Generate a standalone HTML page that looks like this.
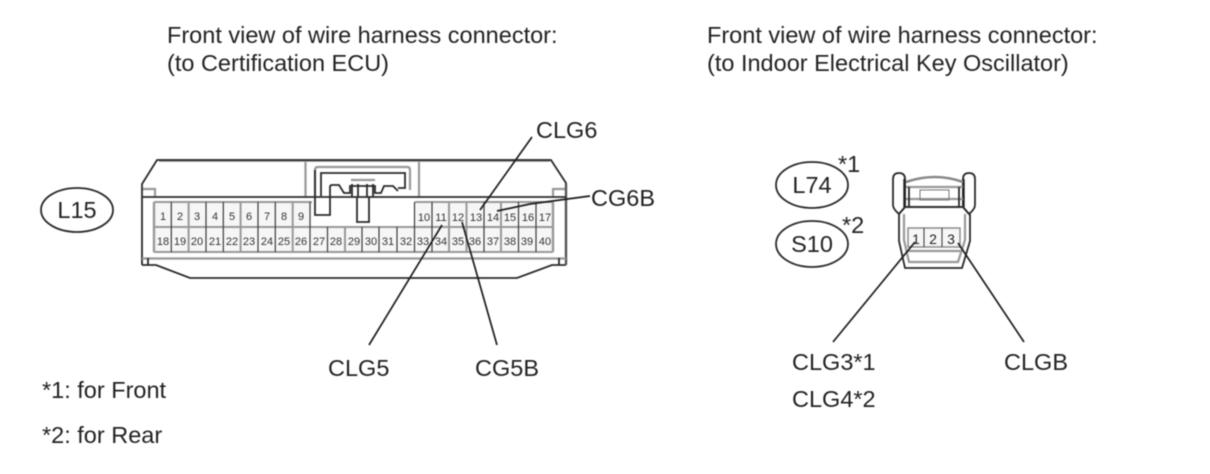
<!DOCTYPE html>
<html>
<head>
<meta charset="utf-8">
<style>
html,body{margin:0;padding:0;background:#fff;}
svg{display:block;filter:blur(0.4px);}
text{font-family:"Liberation Sans",sans-serif;fill:#222;}
.l{font-size:23.5px;}
.n{font-size:11px;text-anchor:middle;fill:#333;}
.k{fill:none;stroke:#2a2a2a;stroke-width:1.8;}
.g{fill:none;stroke:#999;stroke-width:2.2;}
.c{fill:none;stroke:#1d1d1d;stroke-width:1.7;}
</style>
</head>
<body>
<svg width="1210" height="474" viewBox="0 0 1210 474" xmlns="http://www.w3.org/2000/svg">
<rect width="1210" height="474" fill="#fff"/>

<text class="l" x="167" y="43">Front view of wire harness connector:</text>
<text class="l" x="167" y="71">(to Certification ECU)</text>
<text class="l" x="707" y="43">Front view of wire harness connector:</text>
<text class="l" x="707" y="71">(to Indoor Electrical Key Oscillator)</text>

<!-- Main connector -->
<path d="M159,160.5H550" fill="none" stroke="#888" stroke-width="2.6"/>
<path class="k" d="M142,265V184L157,160H551L566,183V265"/>
<path class="k" d="M142,265H156L190,278H517L552,265H566"/>
<path d="M566,184V265" fill="none" stroke="#555" stroke-width="2.4"/>
<path class="k" d="M142,197H566"/>
<path class="g" d="M142,258.5H566" stroke-width="2.6"/>
<path class="g" d="M305.5,162V196M419,162V196"/>
<path class="g" d="M143,189H155V196M553,196V189H565" stroke-width="1.6"/>
<path class="k" d="M148,258V265M559,258V265" stroke-width="1.4"/>

<!-- Centre latch -->
<path class="g" d="M315,196V170Q315,167 318,167H407Q410,167 410,170V190"/>
<path class="k" d="M321,196V173H405V188H398"/>
<path class="k" d="M315,170V215H330V196"/>
<path class="k" d="M330,196V187Q330,185 332,185H339L344,193H350V186H375V193H381L384,186H393L398,191" stroke-width="1.5"/>
<path class="g" d="M351,180H375"/>
<path class="k" d="M352,184V197M358,184V197M367,184V197M373,184V197" stroke-width="1.4"/>
<path class="k" d="M357,197V222H369V197"/>

<!-- Cell grid -->
<g>
<rect x="154" y="202" width="158" height="50" fill="#f6f6f6" stroke="none"/>
<rect x="415" y="202" width="138" height="50" fill="#f6f6f6" stroke="none"/>
<rect x="154" y="227" width="399" height="25" fill="#f6f6f6" stroke="none"/>
<path d="M154,202H312M415,202H553M154,227H553M154,252H553" fill="none" stroke="#999" stroke-width="2"/>
<path d="M154,202V252M553,202V252" fill="none" stroke="#999" stroke-width="2.4"/>
<path d="M171.3,202V252M206,202V252M223.3,202V252M258,202V252M275.3,202V252M310,202V252M327.5,227V252M362,227V252M379,227V252M397,227V252M414.5,202V252M432,202V252M484,202V252M518.5,202V252M536,202V252" stroke="#3a3a3a" stroke-width="1.2" fill="none"/>
<path d="M188.6,202V252M240.6,202V252M292.7,202V252M345,227V252M449,202V252M466.5,202V252M501,202V252" stroke="#999" stroke-width="2" fill="none"/>
</g>
<g>
<text class="n" x="163" y="220">1</text><text class="n" x="180" y="220">2</text><text class="n" x="197" y="220">3</text><text class="n" x="215" y="220">4</text><text class="n" x="232" y="220">5</text><text class="n" x="249" y="220">6</text><text class="n" x="267" y="220">7</text><text class="n" x="284" y="220">8</text><text class="n" x="301" y="220">9</text>
<text class="n" x="424" y="221">10</text><text class="n" x="441" y="221">11</text><text class="n" x="458" y="221">12</text><text class="n" x="476" y="221">13</text><text class="n" x="493" y="221">14</text><text class="n" x="510" y="221">15</text><text class="n" x="528" y="221">16</text><text class="n" x="545" y="221">17</text>
<text class="n" x="163" y="245">18</text><text class="n" x="180" y="245">19</text><text class="n" x="197" y="245">20</text><text class="n" x="215" y="245">21</text><text class="n" x="232" y="245">22</text><text class="n" x="249" y="245">23</text><text class="n" x="267" y="245">24</text><text class="n" x="284" y="245">25</text><text class="n" x="301" y="245">26</text><text class="n" x="319" y="245">27</text><text class="n" x="336" y="245">28</text><text class="n" x="354" y="245">29</text><text class="n" x="371" y="245">30</text><text class="n" x="388" y="245">31</text><text class="n" x="406" y="245">32</text><text class="n" x="423" y="245">33</text><text class="n" x="441" y="245">34</text><text class="n" x="458" y="245">35</text><text class="n" x="475" y="245">36</text><text class="n" x="493" y="245">37</text><text class="n" x="510" y="245">38</text><text class="n" x="527" y="245">39</text><text class="n" x="545" y="245">40</text>
</g>

<!-- Main connector leader lines -->
<path class="c" d="M532,137L480,210"/>
<path class="c" d="M590,196L530,204L497,211"/>
<path class="c" d="M369,345L442,225"/>
<path class="c" d="M497,345L462,222"/>

<text class="l" x="536" y="138">CLG6</text>
<text class="l" x="591" y="206">CG6B</text>
<text class="l" x="328" y="376">CLG5</text>
<text class="l" x="475" y="376">CG5B</text>

<!-- Ovals -->
<ellipse class="k" cx="77" cy="210" rx="36" ry="22"/>
<text class="l" x="77" y="218" text-anchor="middle">L15</text>
<ellipse class="k" cx="812" cy="185" rx="36" ry="23"/>
<text class="l" x="812" y="193" text-anchor="middle">L74</text>
<ellipse class="k" cx="812" cy="244" rx="36" ry="23"/>
<text class="l" x="812" y="252" text-anchor="middle">S10</text>
<text class="l" x="838" y="172">*1</text>
<text class="l" x="842" y="233">*2</text>

<!-- Small connector -->
<path class="k" d="M893,179Q893,173 899,173Q905,173 905,179V207L899,214Q893,209 893,205Z" stroke-width="1.5"/>
<path class="k" d="M963,179Q963,173 969,173Q975,173 975,179V205Q975,209 969,214L963,207Z" stroke-width="1.5"/>
<path d="M904.5,179V207M963.5,179V207" fill="none" stroke="#222" stroke-width="2.4"/>
<path d="M906,182Q935,172 963,182" fill="none" stroke="#888" stroke-width="2.6"/>
<path class="g" d="M906,187H963M906,199H963M906,207H963" stroke-width="1.6"/>
<rect x="920" y="190" width="29" height="10" fill="none" stroke="#777" stroke-width="1"/>
<path class="k" d="M909,187V207M959,187V207" stroke-width="1.2"/>
<path class="k" d="M899,214L905,207H963L969,214"/>
<path class="k" d="M899,214V241L905,268H962L970,241V214"/>
<path class="g" d="M904,214V240L909,262H958L965,240V214" stroke-width="1.6"/>
<rect x="908" y="228" width="52" height="19" fill="#f6f6f6" stroke="#888" stroke-width="1.4"/>
<path d="M924,228V247M942,228V247" stroke="#444" stroke-width="1.1" fill="none"/>
<text x="916" y="244" font-size="14" text-anchor="middle">1</text>
<text x="933" y="244" font-size="14" text-anchor="middle">2</text>
<text x="951" y="244" font-size="14" text-anchor="middle">3</text>
<path class="g" d="M906,251H962" stroke-width="1.6"/>
<path class="c" d="M833,342L915,242"/>
<path class="c" d="M1024,342L958,243"/>

<text class="l" x="792" y="370">CLG3*1</text>
<text class="l" x="792" y="407">CLG4*2</text>
<text class="l" x="1004" y="370">CLGB</text>

<text class="l" x="42" y="398">*1: for Front</text>
<text class="l" x="42" y="443">*2: for Rear</text>
</svg>
</body>
</html>
